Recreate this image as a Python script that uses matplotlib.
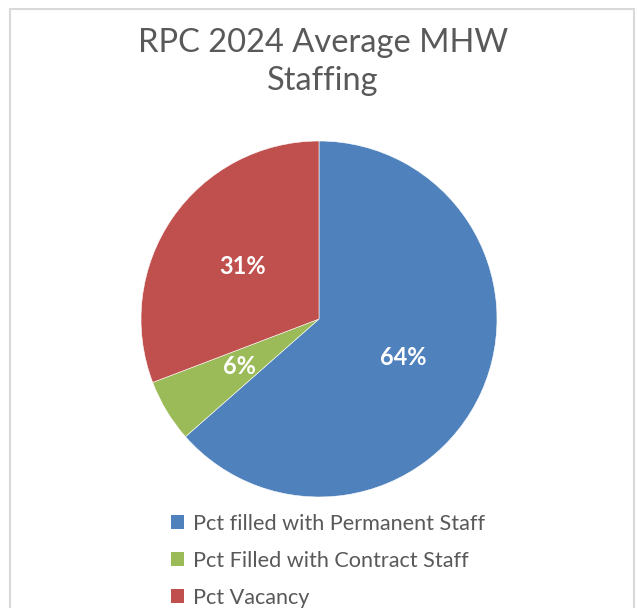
import matplotlib
matplotlib.use("Agg")
import matplotlib.pyplot as plt
from matplotlib.patches import Rectangle, Patch

plt.rcParams['font.family'] = ['Lato', 'DejaVu Sans']

# Data
categories = ["Pct filled with Permanent Staff", "Pct Filled with Contract Staff", "Pct Vacancy"]
values = [63.5, 5.7, 30.8]
labels = ["64%", "6%", "31%"]
colors = ["#4F81BD", "#9BBB59", "#C0504D"]
title = "RPC 2024 Average MHW\nStaffing"

W, H = 637, 608
fig = plt.figure(figsize=(W / 100, H / 100), dpi=100)
fig.patch.set_facecolor("white")

# frame
fig.add_artist(Rectangle((10 / W, -0.1), 624 / W, (H - 9) / H + 0.1,
                         transform=fig.transFigure, fill=False,
                         edgecolor="#d9d9d9", lw=1.5))

cx, cy, r = 319, H - 319, 178
ax = fig.add_axes([(cx - r) / W, (cy - r) / H, 2 * r / W, 2 * r / H])
wedges, texts = ax.pie(values, colors=colors, startangle=90, counterclock=False,
                       radius=1.0, labels=labels, labeldistance=0.52,
                       wedgeprops=dict(edgecolor="white", linewidth=0.4))
for t in texts:
    t.set_color("white")
    t.set_fontweight("bold")
    t.set_fontsize(17)
    t.set_ha("center")
    t.set_va("center")
ax.set_xlim(-1, 1)
ax.set_ylim(-1, 1)
ax.set_aspect("equal")
ax.axis("off")

fig.text(323 / W, 1 - 62 / H, title, ha="center", va="center", fontsize=23.5,
         color="#595959", linespacing=1.3)

handles = [Patch(facecolor=c, edgecolor="none") for c in colors]
fig.legend(handles, categories, loc="upper left",
           bbox_to_anchor=(171 / W, 1 - 514 / H), frameon=False,
           fontsize=15.6, handlelength=0.6, handleheight=0.6,
           handletextpad=0.4, labelspacing=0.78, labelcolor="#595959",
           borderpad=0, borderaxespad=0)

fig.savefig("out.png", dpi=100)
